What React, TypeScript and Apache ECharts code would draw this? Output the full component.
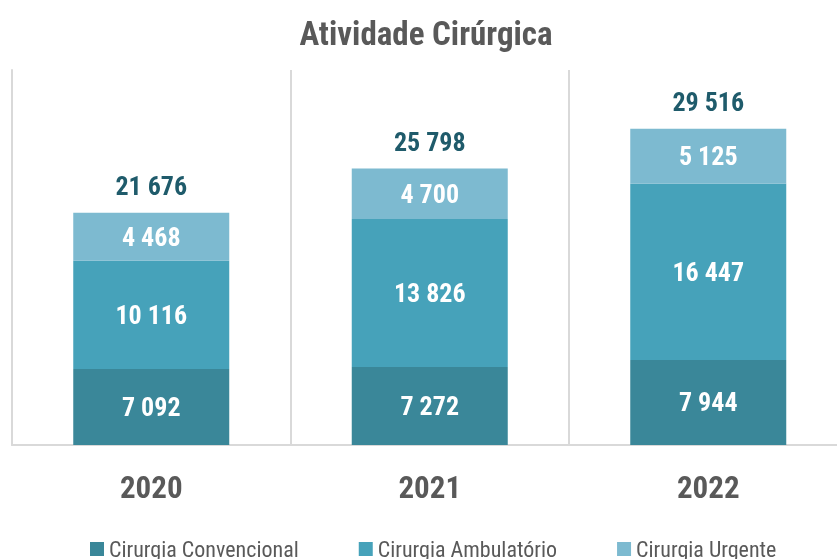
import React, { useEffect, useRef } from "react";
import * as echarts from "echarts";

const categories = ["2020", "2021", "2022"];
const convencional = [7092, 7272, 7944];
const ambulatorio = [10116, 13826, 16447];
const urgente = [4468, 4700, 5125];
const seriesNames = ["Cirurgia Convencional", "Cirurgia Ambulatório", "Cirurgia Urgente"];
const colors = ["#3a8799", "#46a2ba", "#7dbad0"];

const fmt = (v: number) => String(v).replace(/\B(?=(\d{3})+(?!\d))/g, " ");
const NARROW = "'Liberation Sans Narrow', 'Roboto Condensed', 'Arial Narrow', sans-serif";
const LABEL_FONT = "'Roboto Condensed', 'Liberation Sans Narrow', Roboto, sans-serif";

export default function App() {
  const ref = useRef<HTMLDivElement>(null);
  useEffect(() => {
    if (!ref.current) return;
    const chart = echarts.init(ref.current, null, { renderer: "svg" });
    const totals = categories.map((_, i) => convencional[i] + ambulatorio[i] + urgente[i]);
    const values = [convencional, ambulatorio, urgente];
    chart.setOption({
      animation: false,
      title: {
        text: "Atividade Cirúrgica",
        left: 421,
        textAlign: "center",
        top: 12,
        textStyle: { fontFamily: NARROW, fontSize: 33, fontWeight: "bold", color: "#595959" },
      },
      legend: {
        bottom: -6,
        left: 85,
        itemWidth: 14,
        itemHeight: 14,
        itemGap: 60,
        icon: "rect",
        data: seriesNames,
        textStyle: { fontFamily: NARROW, fontSize: 22, color: "#595959" },
      },
      grid: { left: 12, top: 70, width: 835.5, height: 375 },
      xAxis: {
        type: "category",
        data: categories,
        axisLine: { show: true, lineStyle: { color: "#d9d9d9", width: 2 } },
        axisTick: { show: false },
        splitLine: { show: true, lineStyle: { color: "#d9d9d9", width: 2 } },
        axisLabel: {
          margin: 27,
          fontFamily: LABEL_FONT,
          fontSize: 31,
          fontWeight: "bold",
          color: "#595959",
        },
      },
      yAxis: {
        type: "value",
        min: 0,
        max: 35000,
        axisLine: { show: true, lineStyle: { color: "#d9d9d9", width: 2 } },
        axisTick: { show: false },
        axisLabel: { show: false },
        splitLine: { show: false },
      },
      series: [
        ...seriesNames.map((name, k) => ({
          name,
          type: "bar",
          stack: "total",
          barWidth: 156,
          data: values[k],
          itemStyle: { color: colors[k] },
          label: {
            show: true,
            position: "inside",
            formatter: (p: any) => fmt(p.value),
            fontFamily: LABEL_FONT,
            fontSize: 26,
            fontWeight: "bold",
            color: "#ffffff",
          },
        })),
        {
          name: "Total",
          type: "bar",
          barWidth: 156,
          barGap: "-100%",
          data: totals,
          z: 1,
          silent: true,
          itemStyle: { color: "rgba(0,0,0,0)" },
          label: {
            show: true,
            position: "top",
            distance: 14,
            formatter: (p: any) => fmt(p.value),
            fontFamily: LABEL_FONT,
            fontSize: 26,
            fontWeight: "bold",
            color: "#1f5b6b",
          },
        },
      ],
    });
    return () => chart.dispose();
  }, []);
  return (
    <div style={{ position: "fixed", left: 0, top: 0, width: 837, height: 559, overflow: "hidden" }}>
      <div ref={ref} style={{ width: 860, height: 559 }} />
    </div>
  );
}
